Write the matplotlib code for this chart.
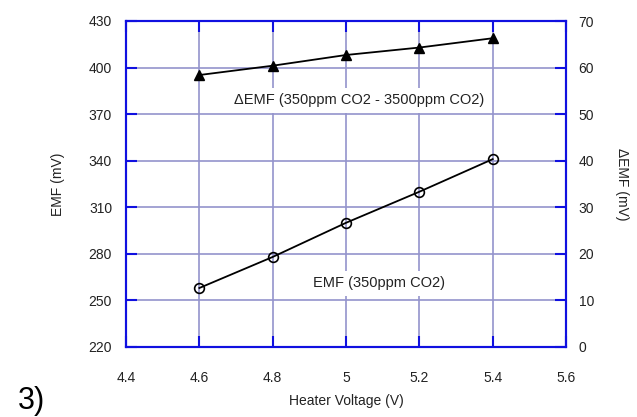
import matplotlib.pyplot as plt

plt.rcParams['font.family'] = ['Liberation Sans', 'DejaVu Sans']

# data
voltage = [4.6, 4.8, 5.0, 5.2, 5.4]
emf = [258, 278, 300, 320, 341]
delta_emf = [58.4, 60.4, 62.7, 64.3, 66.3]

x_ticks = [4.4, 4.6, 4.8, 5.0, 5.2, 5.4, 5.6]
x_labels = ['4.4', '4.6', '4.8', '5', '5.2', '5.4', '5.6']
left_ticks = [220, 250, 280, 310, 340, 370, 400, 430]
right_ticks = [0, 10, 20, 30, 40, 50, 60, 70]

frame = '#1010e0'
grid = '#9494cc'
txt = '#222222'

fig = plt.figure(figsize=(6.37, 4.17), dpi=100)
ax = fig.add_axes([126 / 637, 1 - 347 / 417, 440 / 637, 326 / 417])
ax2 = ax.twinx()

ax.set_xlim(4.4, 5.6)
ax.set_ylim(220, 430)
ax2.set_ylim(0, 70)

ax.set_xticks(x_ticks)
ax.set_xticklabels(x_labels)
ax.set_yticks(left_ticks)
ax2.set_yticks(right_ticks)

ax.grid(True, color=grid, linewidth=1.2)
ax.set_axisbelow(True)

for a in (ax, ax2):
    for s in a.spines.values():
        s.set_color(frame)
        s.set_linewidth(1.5)
    a.tick_params(colors=frame, labelcolor=txt, labelsize=10, length=8,
                  width=1.5, direction='in')
ax.tick_params(axis='x', top=True, pad=17)
ax.tick_params(axis='y', pad=10)
ax2.tick_params(axis='y', pad=9)

ax.plot(voltage, emf, color='black', linewidth=1.3, marker='o', markersize=7,
        markerfacecolor='none', markeredgecolor='black', markeredgewidth=1.2, zorder=5)
ax2.plot(voltage, delta_emf, color='black', linewidth=1.3, marker='^', markersize=7,
         markerfacecolor='black', zorder=5)

box = dict(facecolor='white', edgecolor='none', pad=4)
ax.text(5.037, 379, '\u0394EMF (350ppm CO2 - 3500ppm CO2)', fontsize=10.5, color=txt,
        ha='center', va='center', bbox=box, zorder=4)
ax.text(5.09, 261, 'EMF (350ppm CO2)', fontsize=10.5, color=txt,
        ha='center', va='center', bbox=box, zorder=4)

ax.set_ylabel('EMF (mV)', fontsize=10, color=txt, labelpad=17)
ax2.set_ylabel('\u0394EMF (mV)', fontsize=10, color=txt, rotation=-90, labelpad=25)
ax.set_xlabel('Heater Voltage (V)', fontsize=10, color=txt, labelpad=7)

fig.text(0.028, 0.02, '3)', fontsize=22, color='black')

fig.savefig('out.png', dpi=100)
